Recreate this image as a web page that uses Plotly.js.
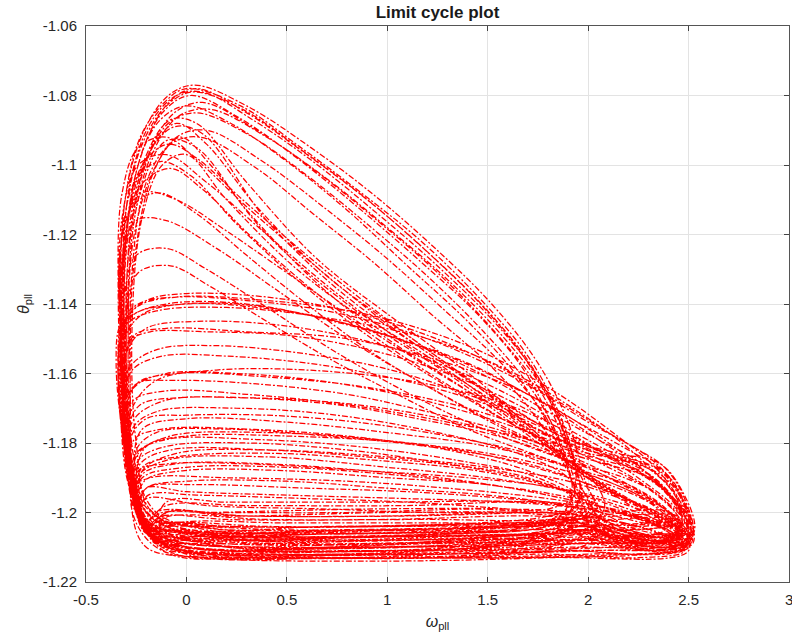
<!DOCTYPE html>
<html>
<head>
<meta charset="utf-8">
<script src="https://cdn.plot.ly/plotly-3.0.1.min.js"></script>
<style>html,body{margin:0;padding:0;background:#fff;}#chart{width:792px;height:640px;}</style>
</head>
<body>
<div id="chart"></div>
<script>
// Loops of the (omega_pll, theta_pll) trajectory as [omega, theta] pairs.
// U: big loops along the upper diagonal band that fall steeply into the crossing near (1.95, -1.19)
const loopU1 = [[-0.2,-1.206],[-0.29,-1.185],[-0.31,-1.15],[-0.29,-1.115],[-0.2,-1.093],[-0.07,-1.081],[0.05,-1.078],[0.3,-1.085],[0.6,-1.097],[0.9,-1.11],[1.2,-1.125],[1.5,-1.142],[1.72,-1.158],[1.86,-1.174],[1.94,-1.19],[1.88,-1.2],[1.7,-1.203],[1.2,-1.205],[0.5,-1.205],[-0.1,-1.204]];
const loopU2 = [[-0.15,-1.209],[-0.27,-1.195],[-0.32,-1.16],[-0.31,-1.125],[-0.24,-1.1],[-0.12,-1.085],[0.02,-1.08],[0.25,-1.086],[0.55,-1.098],[0.85,-1.112],[1.15,-1.127],[1.45,-1.143],[1.68,-1.159],[1.83,-1.176],[1.93,-1.193],[2.0,-1.204],[1.85,-1.21],[1.3,-1.212],[0.6,-1.213],[-0.05,-1.211]];
const loopU3 = [[-0.18,-1.207],[-0.28,-1.188],[-0.3,-1.155],[-0.28,-1.12],[-0.19,-1.097],[-0.06,-1.085],[0.08,-1.082],[0.35,-1.09],[0.65,-1.102],[0.95,-1.116],[1.25,-1.131],[1.52,-1.147],[1.74,-1.163],[1.88,-1.179],[1.96,-1.195],[1.9,-1.2],[1.6,-1.2],[1.0,-1.201],[0.3,-1.201],[-0.12,-1.2]];
const loopU4 = [[-0.22,-1.203],[-0.31,-1.175],[-0.33,-1.14],[-0.3,-1.108],[-0.21,-1.09],[-0.09,-1.08],[0.04,-1.077],[0.3,-1.083],[0.62,-1.095],[0.92,-1.108],[1.22,-1.123],[1.52,-1.14],[1.75,-1.157],[1.9,-1.174],[1.98,-1.19],[2.05,-1.202],[1.9,-1.206],[1.4,-1.208],[0.7,-1.209],[0.0,-1.208]];
const loopU5 = [[-0.16,-1.208],[-0.26,-1.192],[-0.28,-1.16],[-0.26,-1.128],[-0.17,-1.103],[-0.05,-1.092],[0.1,-1.09],[0.38,-1.099],[0.68,-1.112],[0.98,-1.126],[1.27,-1.141],[1.55,-1.156],[1.76,-1.17],[1.89,-1.184],[1.95,-1.197],[1.88,-1.206],[1.5,-1.21],[0.9,-1.211],[0.2,-1.211],[-0.1,-1.209]];
const loopU6 = [[-0.21,-1.205],[-0.3,-1.18],[-0.32,-1.145],[-0.3,-1.113],[-0.22,-1.094],[-0.1,-1.083],[0.03,-1.079],[0.28,-1.084],[0.58,-1.096],[0.88,-1.109],[1.18,-1.124],[1.48,-1.141],[1.7,-1.157],[1.85,-1.173],[1.95,-1.191],[2.02,-1.2],[1.8,-1.203],[1.1,-1.204],[0.4,-1.204],[-0.08,-1.203]];
const loopU7 = [[-0.17,-1.207],[-0.27,-1.19],[-0.29,-1.152],[-0.27,-1.12],[-0.18,-1.098],[-0.04,-1.086],[0.12,-1.084],[0.4,-1.092],[0.7,-1.104],[1.0,-1.118],[1.3,-1.133],[1.57,-1.149],[1.77,-1.164],[1.9,-1.18],[1.97,-1.197],[1.92,-1.204],[1.55,-1.207],[0.95,-1.208],[0.25,-1.207],[-0.12,-1.206]];
const loopU8 = [[-0.2,-1.206],[-0.3,-1.183],[-0.33,-1.148],[-0.31,-1.112],[-0.23,-1.092],[-0.11,-1.082],[0.0,-1.078],[0.27,-1.083],[0.57,-1.095],[0.87,-1.108],[1.17,-1.122],[1.47,-1.139],[1.7,-1.155],[1.86,-1.172],[1.96,-1.189],[2.08,-1.203],[2.0,-1.209],[1.5,-1.212],[0.8,-1.213],[0.05,-1.212]];
const loopU9 = [[-0.14,-1.209],[-0.25,-1.195],[-0.28,-1.165],[-0.27,-1.13],[-0.2,-1.105],[-0.08,-1.094],[0.07,-1.092],[0.35,-1.101],[0.63,-1.114],[0.93,-1.128],[1.22,-1.143],[1.5,-1.157],[1.72,-1.171],[1.87,-1.185],[1.93,-1.195],[1.8,-1.199],[1.4,-1.199],[0.8,-1.2],[0.15,-1.2],[-0.15,-1.2]];
const loopU10 = [[-0.23,-1.202],[-0.31,-1.172],[-0.32,-1.135],[-0.28,-1.105],[-0.18,-1.088],[-0.05,-1.08],[0.08,-1.079],[0.33,-1.087],[0.63,-1.099],[0.93,-1.113],[1.23,-1.128],[1.53,-1.145],[1.75,-1.161],[1.89,-1.177],[1.97,-1.193],[2.1,-1.205],[2.3,-1.209],[2.45,-1.211],[2.2,-1.212],[1.6,-1.213],[0.8,-1.213],[0.0,-1.212]];
const loopU11 = [[-0.19,-1.206],[-0.29,-1.186],[-0.31,-1.158],[-0.3,-1.122],[-0.23,-1.098],[-0.13,-1.087],[0.0,-1.083],[0.22,-1.088],[0.5,-1.099],[0.8,-1.113],[1.1,-1.129],[1.4,-1.145],[1.65,-1.161],[1.82,-1.177],[1.92,-1.194],[1.82,-1.203],[1.3,-1.206],[0.6,-1.207],[0.0,-1.206]];
const loopU12 = [[-0.18,-1.207],[-0.28,-1.19],[-0.3,-1.16],[-0.29,-1.127],[-0.21,-1.101],[-0.09,-1.088],[0.05,-1.085],[0.3,-1.091],[0.6,-1.103],[0.9,-1.117],[1.2,-1.132],[1.48,-1.148],[1.7,-1.163],[1.85,-1.178],[1.95,-1.194],[2.12,-1.204],[2.35,-1.208],[2.5,-1.21],[2.3,-1.212],[1.7,-1.213],[0.9,-1.213],[0.1,-1.212]];

// W: loops that turn high on the left side and run down the lower diagonal band into the right lobe
const loopW1 = [[-0.18,-1.207],[-0.28,-1.185],[-0.33,-1.145],[-0.32,-1.115],[-0.24,-1.1],[-0.1,-1.097],[0.1,-1.105],[0.4,-1.12],[0.75,-1.137],[1.1,-1.152],[1.45,-1.165],[1.75,-1.176],[2.0,-1.182],[2.25,-1.186],[2.4,-1.191],[2.5,-1.201],[2.5,-1.209],[2.3,-1.208],[2.05,-1.205],[1.8,-1.206],[1.1,-1.207],[0.3,-1.207],[-0.1,-1.205]];
const loopW2 = [[-0.2,-1.205],[-0.3,-1.178],[-0.33,-1.14],[-0.31,-1.118],[-0.22,-1.108],[-0.05,-1.11],[0.2,-1.119],[0.5,-1.131],[0.85,-1.145],[1.2,-1.158],[1.55,-1.17],[1.85,-1.179],[2.1,-1.184],[2.32,-1.188],[2.46,-1.197],[2.52,-1.207],[2.4,-1.21],[2.15,-1.208],[1.97,-1.204],[1.7,-1.206],[1.0,-1.209],[0.2,-1.209],[-0.1,-1.207]];
const loopW3 = [[-0.15,-1.208],[-0.27,-1.19],[-0.32,-1.155],[-0.32,-1.128],[-0.25,-1.116],[-0.1,-1.116],[0.15,-1.124],[0.45,-1.136],[0.8,-1.15],[1.15,-1.162],[1.5,-1.173],[1.8,-1.181],[2.08,-1.186],[2.3,-1.19],[2.44,-1.198],[2.49,-1.206],[2.35,-1.207],[2.1,-1.204],[1.95,-1.2],[1.7,-1.202],[1.0,-1.204],[0.2,-1.204],[-0.08,-1.203]];
const loopW4 = [[-0.22,-1.203],[-0.31,-1.172],[-0.34,-1.135],[-0.32,-1.108],[-0.24,-1.095],[-0.1,-1.092],[0.06,-1.099],[0.3,-1.112],[0.62,-1.128],[0.96,-1.144],[1.3,-1.158],[1.62,-1.17],[1.9,-1.179],[2.15,-1.183],[2.36,-1.186],[2.47,-1.194],[2.53,-1.205],[2.45,-1.211],[2.2,-1.21],[2.0,-1.207],[1.8,-1.21],[1.2,-1.212],[0.4,-1.212],[-0.1,-1.21]];
const loopW5 = [[-0.17,-1.207],[-0.27,-1.188],[-0.31,-1.16],[-0.31,-1.138],[-0.25,-1.126],[-0.1,-1.124],[0.1,-1.13],[0.4,-1.141],[0.72,-1.153],[1.05,-1.164],[1.4,-1.174],[1.7,-1.181],[1.95,-1.186],[2.18,-1.19],[2.35,-1.195],[2.46,-1.203],[2.42,-1.207],[2.2,-1.205],[2.0,-1.201],[1.75,-1.203],[1.1,-1.205],[0.3,-1.206],[-0.1,-1.205]];
const loopW6 = [[-0.21,-1.204],[-0.3,-1.178],[-0.33,-1.145],[-0.32,-1.12],[-0.25,-1.104],[-0.13,-1.099],[0.02,-1.103],[0.25,-1.117],[0.55,-1.133],[0.9,-1.149],[1.25,-1.162],[1.57,-1.173],[1.85,-1.181],[2.08,-1.185],[2.3,-1.189],[2.44,-1.197],[2.51,-1.207],[2.38,-1.209],[2.12,-1.207],[1.96,-1.203],[1.72,-1.206],[0.9,-1.208],[0.1,-1.208],[-0.12,-1.207]];
const loopW7 = [[-0.16,-1.208],[-0.26,-1.19],[-0.3,-1.163],[-0.3,-1.143],[-0.24,-1.131],[-0.08,-1.129],[0.12,-1.135],[0.4,-1.145],[0.72,-1.156],[1.05,-1.166],[1.4,-1.176],[1.72,-1.183],[1.97,-1.188],[2.2,-1.192],[2.37,-1.198],[2.47,-1.205],[2.4,-1.208],[2.15,-1.206],[1.98,-1.202],[1.7,-1.204],[1.0,-1.206],[0.2,-1.206],[-0.1,-1.205]];
const loopW8 = [[-0.19,-1.206],[-0.28,-1.185],[-0.32,-1.15],[-0.31,-1.122],[-0.23,-1.106],[-0.08,-1.101],[0.08,-1.107],[0.33,-1.121],[0.65,-1.137],[1.0,-1.152],[1.35,-1.165],[1.67,-1.176],[1.93,-1.182],[2.18,-1.185],[2.37,-1.188],[2.48,-1.197],[2.52,-1.209],[2.35,-1.21],[2.1,-1.208],[1.92,-1.205],[1.65,-1.209],[1.0,-1.211],[0.3,-1.211],[-0.08,-1.209]];
const loopW9 = [[-0.2,-1.205],[-0.29,-1.182],[-0.33,-1.148],[-0.33,-1.125],[-0.27,-1.112],[-0.14,-1.108],[0.05,-1.114],[0.3,-1.126],[0.62,-1.141],[0.95,-1.155],[1.3,-1.167],[1.62,-1.177],[1.9,-1.183],[2.15,-1.187],[2.34,-1.191],[2.46,-1.2],[2.5,-1.208],[2.32,-1.209],[2.08,-1.206],[1.9,-1.202],[1.6,-1.205],[0.9,-1.207],[0.1,-1.207],[-0.12,-1.206]];
const loopW10 = [[-0.17,-1.207],[-0.27,-1.187],[-0.31,-1.152],[-0.3,-1.12],[-0.22,-1.1],[-0.09,-1.094],[0.05,-1.098],[0.28,-1.11],[0.58,-1.125],[0.9,-1.14],[1.22,-1.154],[1.55,-1.167],[1.83,-1.177],[2.1,-1.183],[2.33,-1.187],[2.46,-1.195],[2.52,-1.206],[2.42,-1.21],[2.18,-1.208],[1.98,-1.204],[1.75,-1.207],[1.1,-1.21],[0.3,-1.21],[-0.1,-1.208]];
const loopL1 = [[2.46,-1.206],[1.8,-1.208],[0.9,-1.21],[0.1,-1.209],[-0.2,-1.203],[-0.28,-1.18],[-0.3,-1.145],[-0.27,-1.115],[-0.17,-1.095],[-0.05,-1.088],[0.1,-1.094],[0.35,-1.112],[0.7,-1.132],[1.1,-1.149],[1.5,-1.166],[1.85,-1.183],[2.15,-1.195],[2.4,-1.203]];
const loopL2 = [[2.42,-1.204],[1.9,-1.206],[1.1,-1.208],[0.3,-1.208],[-0.15,-1.204],[-0.26,-1.185],[-0.29,-1.15],[-0.26,-1.12],[-0.15,-1.1],[-0.03,-1.092],[0.12,-1.1],[0.4,-1.12],[0.8,-1.14],[1.25,-1.157],[1.65,-1.174],[1.95,-1.188],[2.25,-1.198],[2.45,-1.205]];
const loopL3 = [[2.5,-1.209],[2.0,-1.211],[1.2,-1.212],[0.4,-1.212],[-0.1,-1.209],[-0.26,-1.195],[-0.32,-1.16],[-0.31,-1.125],[-0.22,-1.1],[-0.08,-1.087],[0.05,-1.088],[0.3,-1.105],[0.65,-1.127],[1.05,-1.145],[1.45,-1.162],[1.8,-1.18],[2.1,-1.193],[2.38,-1.202]];
const loopL4 = [[2.44,-1.202],[1.7,-1.204],[0.8,-1.206],[0.0,-1.205],[-0.22,-1.197],[-0.29,-1.17],[-0.29,-1.135],[-0.23,-1.108],[-0.1,-1.093],[0.05,-1.095],[0.3,-1.113],[0.65,-1.134],[1.0,-1.15],[1.4,-1.165],[1.8,-1.182],[2.1,-1.194],[2.4,-1.203]];
const loopL5 = [[2.47,-1.207],[1.9,-1.209],[1.0,-1.21],[0.2,-1.21],[-0.18,-1.205],[-0.28,-1.188],[-0.31,-1.155],[-0.29,-1.12],[-0.19,-1.097],[-0.06,-1.089],[0.08,-1.091],[0.4,-1.116],[0.8,-1.138],[1.2,-1.154],[1.6,-1.17],[1.92,-1.186],[2.2,-1.196],[2.44,-1.204]];
const loopL6 = [[2.41,-1.2],[1.8,-1.203],[1.0,-1.205],[0.2,-1.205],[-0.17,-1.2],[-0.25,-1.18],[-0.27,-1.145],[-0.22,-1.115],[-0.12,-1.1],[0.0,-1.097],[0.2,-1.11],[0.55,-1.13],[0.95,-1.147],[1.35,-1.162],[1.75,-1.179],[2.05,-1.192],[2.35,-1.2]];

// B: loops of the flat band near theta = -1.14
const loopB1 = [[-0.2,-1.205],[-0.3,-1.185],[-0.34,-1.16],[-0.31,-1.145],[-0.2,-1.139],[0.0,-1.137],[0.4,-1.138],[0.8,-1.142],[1.2,-1.149],[1.55,-1.158],[1.85,-1.168],[2.1,-1.177],[2.3,-1.184],[2.43,-1.192],[2.5,-1.203],[2.42,-1.207],[2.2,-1.205],[1.98,-1.2],[1.75,-1.2],[1.1,-1.201],[0.3,-1.201],[-0.1,-1.2]];
const loopB2 = [[-0.18,-1.206],[-0.29,-1.188],[-0.33,-1.165],[-0.31,-1.15],[-0.22,-1.143],[-0.02,-1.14],[0.35,-1.141],[0.75,-1.145],[1.15,-1.152],[1.5,-1.161],[1.8,-1.171],[2.05,-1.179],[2.27,-1.186],[2.42,-1.194],[2.49,-1.205],[2.38,-1.208],[2.15,-1.206],[1.96,-1.202],[1.7,-1.203],[1.0,-1.204],[0.2,-1.204],[-0.1,-1.203]];
const loopB3 = [[-0.21,-1.204],[-0.31,-1.18],[-0.35,-1.157],[-0.33,-1.146],[-0.24,-1.14],[-0.05,-1.138],[0.3,-1.139],[0.7,-1.142],[1.1,-1.148],[1.45,-1.156],[1.75,-1.165],[2.0,-1.174],[2.22,-1.181],[2.38,-1.187],[2.48,-1.196],[2.52,-1.207],[2.4,-1.211],[2.18,-1.209],[2.0,-1.205],[1.8,-1.208],[1.2,-1.211],[0.4,-1.212],[-0.08,-1.21]];
const loopB4 = [[-0.17,-1.207],[-0.28,-1.19],[-0.32,-1.168],[-0.3,-1.154],[-0.2,-1.147],[0.05,-1.145],[0.45,-1.146],[0.85,-1.15],[1.25,-1.157],[1.6,-1.166],[1.9,-1.176],[2.15,-1.184],[2.35,-1.191],[2.46,-1.2],[2.45,-1.206],[2.25,-1.205],[2.02,-1.199],[1.78,-1.197],[1.1,-1.198],[0.3,-1.198],[-0.1,-1.198]];
const loopB5 = [[-0.2,-1.205],[-0.3,-1.183],[-0.34,-1.158],[-0.32,-1.146],[-0.23,-1.142],[0.0,-1.14],[0.25,-1.14],[0.6,-1.143],[1.0,-1.149],[1.4,-1.157],[1.7,-1.166],[1.98,-1.175],[2.2,-1.182],[2.37,-1.188],[2.47,-1.197],[2.51,-1.206],[2.42,-1.21],[2.2,-1.208],[1.99,-1.204],[1.75,-1.206],[1.0,-1.207],[0.2,-1.208],[-0.1,-1.207]];
const loopB6 = [[-0.19,-1.206],[-0.29,-1.186],[-0.32,-1.163],[-0.29,-1.151],[-0.18,-1.148],[0.1,-1.148],[0.5,-1.149],[0.9,-1.153],[1.3,-1.16],[1.65,-1.169],[1.95,-1.179],[2.2,-1.187],[2.38,-1.194],[2.47,-1.203],[2.4,-1.208],[2.2,-1.206],[1.98,-1.202],[1.72,-1.201],[1.0,-1.202],[0.2,-1.202],[-0.12,-1.201]];
const loopB7 = [[2.5,-1.207],[2.0,-1.208],[1.2,-1.209],[0.4,-1.21],[-0.1,-1.207],[-0.27,-1.195],[-0.33,-1.17],[-0.33,-1.15],[-0.25,-1.141],[-0.05,-1.138],[0.4,-1.139],[0.9,-1.143],[1.4,-1.152],[1.8,-1.164],[2.1,-1.176],[2.35,-1.188],[2.48,-1.2]];
const loopB8 = [[2.46,-1.204],[1.8,-1.206],[0.9,-1.207],[0.1,-1.207],[-0.2,-1.2],[-0.3,-1.18],[-0.34,-1.158],[-0.3,-1.146],[-0.15,-1.142],[0.2,-1.141],[0.7,-1.144],[1.2,-1.15],[1.6,-1.159],[1.95,-1.171],[2.25,-1.184],[2.45,-1.197]];
const loopB9 = [[2.52,-1.208],[2.1,-1.21],[1.3,-1.211],[0.5,-1.211],[-0.05,-1.209],[-0.25,-1.198],[-0.32,-1.175],[-0.33,-1.155],[-0.28,-1.144],[-0.1,-1.14],[0.3,-1.14],[0.8,-1.146],[1.3,-1.155],[1.7,-1.166],[2.05,-1.179],[2.32,-1.19],[2.5,-1.202]];
const loopB10 = [[2.44,-1.201],[1.6,-1.203],[0.7,-1.204],[-0.05,-1.204],[-0.22,-1.196],[-0.29,-1.175],[-0.31,-1.158],[-0.26,-1.149],[-0.1,-1.147],[0.3,-1.148],[0.8,-1.15],[1.3,-1.157],[1.7,-1.166],[2.0,-1.176],[2.3,-1.189],[2.46,-1.2]];

// C: loops of the band between theta = -1.15 and -1.18
const loopC1 = [[-0.2,-1.205],[-0.29,-1.185],[-0.31,-1.168],[-0.27,-1.159],[-0.12,-1.155],[0.2,-1.155],[0.6,-1.157],[1.0,-1.161],[1.4,-1.167],[1.75,-1.175],[2.05,-1.183],[2.3,-1.19],[2.45,-1.198],[2.5,-1.207],[2.38,-1.209],[2.15,-1.206],[1.97,-1.201],[1.7,-1.2],[1.0,-1.2],[0.2,-1.201],[-0.1,-1.2]];
const loopC2 = [[-0.17,-1.207],[-0.27,-1.19],[-0.3,-1.173],[-0.26,-1.164],[-0.1,-1.16],[0.25,-1.16],[0.65,-1.162],[1.05,-1.166],[1.45,-1.172],[1.8,-1.179],[2.1,-1.187],[2.32,-1.194],[2.46,-1.203],[2.38,-1.207],[2.15,-1.204],[1.96,-1.199],[1.7,-1.197],[1.0,-1.197],[0.2,-1.197],[-0.1,-1.197]];
const loopC3 = [[-0.21,-1.204],[-0.3,-1.182],[-0.31,-1.17],[-0.25,-1.163],[-0.05,-1.162],[0.35,-1.163],[0.8,-1.166],[1.2,-1.171],[1.6,-1.177],[1.92,-1.184],[2.2,-1.192],[2.4,-1.2],[2.5,-1.209],[2.35,-1.211],[2.1,-1.209],[1.9,-1.206],[1.6,-1.209],[0.9,-1.212],[0.1,-1.212],[-0.12,-1.21]];
const loopC4 = [[-0.18,-1.206],[-0.28,-1.188],[-0.29,-1.176],[-0.23,-1.169],[-0.05,-1.167],[0.3,-1.167],[0.75,-1.169],[1.15,-1.173],[1.55,-1.178],[1.9,-1.185],[2.18,-1.192],[2.38,-1.199],[2.47,-1.206],[2.33,-1.208],[2.1,-1.206],[1.95,-1.203],[1.7,-1.204],[1.0,-1.205],[0.2,-1.205],[-0.1,-1.204]];
const loopC5 = [[-0.19,-1.205],[-0.29,-1.186],[-0.32,-1.168],[-0.28,-1.158],[-0.14,-1.153],[0.15,-1.152],[0.55,-1.154],[0.95,-1.158],[1.35,-1.165],[1.7,-1.173],[2.0,-1.181],[2.25,-1.188],[2.42,-1.196],[2.51,-1.206],[2.4,-1.21],[2.15,-1.208],[1.98,-1.205],[1.72,-1.207],[1.0,-1.208],[0.2,-1.209],[-0.12,-1.208]];
const loopC6 = [[-0.16,-1.207],[-0.26,-1.191],[-0.28,-1.179],[-0.2,-1.173],[0.0,-1.172],[0.4,-1.172],[0.85,-1.174],[1.3,-1.178],[1.7,-1.183],[2.0,-1.189],[2.25,-1.195],[2.42,-1.202],[2.46,-1.207],[2.3,-1.207],[2.05,-1.203],[1.9,-1.2],[1.6,-1.199],[0.9,-1.199],[0.1,-1.2],[-0.1,-1.2]];
const loopC7 = [[2.46,-1.206],[1.8,-1.208],[0.9,-1.209],[0.1,-1.209],[-0.18,-1.203],[-0.27,-1.188],[-0.3,-1.172],[-0.25,-1.163],[-0.05,-1.16],[0.4,-1.161],[0.9,-1.164],[1.4,-1.17],[1.8,-1.178],[2.1,-1.186],[2.35,-1.195],[2.48,-1.203]];
const loopC8 = [[2.5,-1.209],[1.9,-1.211],[1.0,-1.212],[0.2,-1.212],[-0.15,-1.208],[-0.27,-1.195],[-0.31,-1.178],[-0.27,-1.168],[-0.1,-1.165],[0.3,-1.166],[0.8,-1.169],[1.3,-1.174],[1.75,-1.18],[2.1,-1.19],[2.38,-1.199],[2.5,-1.206]];
const loopC9 = [[2.47,-1.207],[1.6,-1.209],[0.7,-1.21],[-0.05,-1.209],[-0.22,-1.2],[-0.29,-1.182],[-0.27,-1.17],[-0.15,-1.162],[0.15,-1.159],[0.6,-1.159],[1.1,-1.162],[1.55,-1.168],[1.9,-1.177],[2.2,-1.188],[2.45,-1.2]];
const loopC10 = [[2.42,-1.202],[1.7,-1.204],[0.9,-1.205],[0.1,-1.205],[-0.15,-1.2],[-0.24,-1.19],[-0.25,-1.182],[-0.15,-1.177],[0.2,-1.176],[0.7,-1.178],[1.2,-1.181],[1.7,-1.186],[2.05,-1.193],[2.3,-1.199],[2.43,-1.203]];

// D: low loops between theta = -1.17 and the bottom edge
const loopD1 = [[-0.2,-1.205],[-0.26,-1.195],[-0.24,-1.185],[-0.1,-1.181],[0.3,-1.18],[0.8,-1.182],[1.3,-1.186],[1.7,-1.19],[1.92,-1.196],[1.88,-1.202],[1.7,-1.205],[1.0,-1.206],[0.2,-1.206],[-0.12,-1.205]];
const loopD2 = [[-0.18,-1.206],[-0.25,-1.197],[-0.22,-1.189],[-0.05,-1.186],[0.4,-1.186],[0.9,-1.188],[1.4,-1.191],[1.8,-1.195],[2.1,-1.199],[2.35,-1.204],[2.46,-1.209],[2.3,-1.211],[2.0,-1.209],[1.5,-1.211],[0.7,-1.212],[0.0,-1.211]];
const loopD3 = [[-0.22,-1.203],[-0.28,-1.19],[-0.26,-1.179],[-0.12,-1.176],[0.3,-1.176],[0.8,-1.178],[1.3,-1.182],[1.7,-1.188],[1.95,-1.195],[1.98,-1.2],[1.8,-1.202],[1.2,-1.202],[0.4,-1.202],[-0.08,-1.201]];
const loopD4 = [[-0.17,-1.207],[-0.24,-1.199],[-0.2,-1.193],[0.0,-1.191],[0.5,-1.191],[1.0,-1.193],[1.5,-1.195],[1.9,-1.198],[2.2,-1.202],[2.42,-1.206],[2.35,-1.21],[2.0,-1.208],[1.6,-1.21],[0.8,-1.211],[0.0,-1.21]];
const loopD5 = [[-0.21,-1.204],[-0.27,-1.193],[-0.25,-1.183],[-0.1,-1.179],[0.35,-1.179],[0.85,-1.181],[1.35,-1.185],[1.75,-1.19],[1.95,-1.197],[1.85,-1.202],[1.5,-1.203],[0.8,-1.204],[0.1,-1.204],[-0.12,-1.203]];
const loopD6 = [[-0.19,-1.205],[-0.25,-1.196],[-0.22,-1.187],[-0.05,-1.184],[0.45,-1.183],[0.95,-1.185],[1.45,-1.188],[1.85,-1.193],[2.15,-1.198],[2.4,-1.204],[2.5,-1.21],[2.3,-1.212],[1.9,-1.211],[1.3,-1.213],[0.5,-1.213],[-0.05,-1.212]];
const loopD7 = [[-0.16,-1.208],[-0.23,-1.2],[-0.19,-1.195],[0.05,-1.195],[0.6,-1.196],[1.1,-1.197],[1.6,-1.199],[1.95,-1.201],[2.25,-1.204],[2.44,-1.208],[2.25,-1.209],[1.9,-1.205],[1.4,-1.206],[0.6,-1.207],[0.0,-1.207]];
const loopD8 = [[-0.2,-1.205],[-0.27,-1.19],[-0.27,-1.176],[-0.15,-1.171],[0.25,-1.17],[0.75,-1.172],[1.25,-1.177],[1.65,-1.183],[1.9,-1.19],[2.0,-1.2],[1.85,-1.203],[1.3,-1.203],[0.5,-1.203],[-0.05,-1.203]];
const loopD9 = [[-0.18,-1.206],[-0.24,-1.199],[-0.21,-1.191],[-0.02,-1.188],[0.5,-1.188],[1.0,-1.19],[1.5,-1.192],[1.88,-1.196],[2.18,-1.2],[2.4,-1.205],[2.48,-1.211],[2.25,-1.213],[1.8,-1.212],[1.2,-1.213],[0.4,-1.213],[-0.08,-1.212]];
const loopD10 = [[-0.21,-1.204],[-0.26,-1.195],[-0.23,-1.186],[-0.08,-1.182],[0.4,-1.182],[0.9,-1.184],[1.4,-1.187],[1.8,-1.192],[2.05,-1.198],[2.3,-1.203],[2.45,-1.207],[2.3,-1.209],[2.02,-1.206],[1.75,-1.208],[1.0,-1.211],[0.2,-1.211],[-0.1,-1.209]];
const loopD11 = [[2.48,-1.208],[1.9,-1.21],[1.0,-1.211],[0.2,-1.211],[-0.15,-1.207],[-0.24,-1.198],[-0.22,-1.188],[-0.05,-1.183],[0.4,-1.182],[1.0,-1.184],[1.5,-1.187],[1.9,-1.191],[2.2,-1.197],[2.42,-1.204]];
const loopD12 = [[2.45,-1.205],[1.8,-1.206],[0.9,-1.207],[0.1,-1.207],[-0.18,-1.203],[-0.26,-1.195],[-0.24,-1.188],[-0.1,-1.186],[0.3,-1.186],[0.9,-1.188],[1.4,-1.19],[1.85,-1.193],[2.2,-1.198],[2.44,-1.204]];
const loopD13 = [[2.5,-1.21],[2.0,-1.212],[1.2,-1.213],[0.3,-1.213],[-0.12,-1.211],[-0.25,-1.203],[-0.27,-1.193],[-0.18,-1.19],[0.2,-1.19],[0.8,-1.191],[1.3,-1.193],[1.8,-1.196],[2.2,-1.2],[2.47,-1.206]];
const loopD14 = [[2.44,-1.203],[1.7,-1.205],[0.8,-1.206],[0.0,-1.206],[-0.2,-1.2],[-0.25,-1.19],[-0.2,-1.181],[0.0,-1.178],[0.5,-1.178],[1.1,-1.18],[1.6,-1.184],[2.0,-1.19],[2.3,-1.197],[2.45,-1.204]];
const loopD15 = [[2.47,-1.207],[1.9,-1.209],[1.1,-1.21],[0.2,-1.21],[-0.15,-1.206],[-0.23,-1.198],[-0.2,-1.193],[0.0,-1.194],[0.5,-1.195],[1.1,-1.196],[1.6,-1.197],[2.0,-1.199],[2.3,-1.202],[2.48,-1.206]];
const loopD16 = [[2.43,-1.202],[1.6,-1.204],[0.7,-1.205],[-0.05,-1.205],[-0.22,-1.198],[-0.26,-1.186],[-0.22,-1.176],[0.0,-1.173],[0.5,-1.174],[1.0,-1.177],[1.5,-1.181],[1.9,-1.187],[2.25,-1.195],[2.44,-1.202]];
const loopD17 = [[2.5,-1.211],[1.8,-1.213],[0.9,-1.214],[0.1,-1.213],[-0.2,-1.21],[-0.27,-1.2],[-0.25,-1.19],[-0.1,-1.185],[0.4,-1.184],[1.0,-1.187],[1.5,-1.19],[1.9,-1.194],[2.25,-1.201],[2.49,-1.208]];
const loopD18 = [[-0.19,-1.203],[-0.25,-1.196],[-0.22,-1.19],[0.0,-1.187],[0.5,-1.187],[1.0,-1.189],[1.5,-1.192],[1.85,-1.195],[2.05,-1.198],[1.95,-1.202],[1.6,-1.203],[0.9,-1.204],[0.2,-1.204],[-0.1,-1.203]];
const loopD19 = [[-0.2,-1.206],[-0.27,-1.194],[-0.24,-1.183],[-0.08,-1.178],[0.4,-1.177],[0.95,-1.179],[1.45,-1.183],[1.85,-1.189],[2.15,-1.195],[2.4,-1.202],[2.47,-1.208],[2.3,-1.208],[2.0,-1.204],[1.7,-1.207],[1.0,-1.209],[0.2,-1.209],[-0.1,-1.208]];
const loopD20 = [[-0.17,-1.205],[-0.23,-1.199],[-0.2,-1.193],[0.05,-1.192],[0.6,-1.193],[1.1,-1.194],[1.6,-1.196],[1.95,-1.198],[2.2,-1.201],[2.38,-1.205],[2.25,-1.207],[1.95,-1.203],[1.6,-1.205],[0.8,-1.206],[0.0,-1.206]];
const loopD21 = [[-0.21,-1.204],[-0.28,-1.188],[-0.27,-1.174],[-0.12,-1.168],[0.3,-1.167],[0.85,-1.169],[1.35,-1.174],[1.75,-1.181],[2.0,-1.189],[2.08,-1.199],[1.9,-1.205],[1.3,-1.207],[0.5,-1.208],[-0.05,-1.207]];
const loopD22 = [[-0.18,-1.207],[-0.24,-1.2],[-0.2,-1.196],[0.1,-1.198],[0.7,-1.199],[1.2,-1.2],[1.7,-1.2],[2.0,-1.201],[2.3,-1.205],[2.48,-1.21],[2.3,-1.212],[1.9,-1.211],[1.3,-1.212],[0.5,-1.212],[-0.05,-1.211]];

// Axis ticks and labels as MATLAB prints them
const xTickVals = [-0.5, 0, 0.5, 1, 1.5, 2, 2.5, 3];
const xTickText = ['-0.5', '0', '0.5', '1', '1.5', '2', '2.5', ''];
const xEdgeLabel = '3';
const yTickVals = [-1.22, -1.2, -1.18, -1.16, -1.14, -1.12, -1.1, -1.08, -1.06];
const yTickText = ['-1.22', '-1.2', '-1.18', '-1.16', '-1.14', '-1.12', '-1.1', '-1.08', '-1.06'];

// Order in which the trajectory runs through the loops
const trajectory = [
  loopU1, loopB1, loopD1, loopW1, loopC1, loopU2, loopD2, loopB2, loopW2, loopC2,
  loopU3, loopD3, loopB3, loopW3, loopC3, loopU4, loopD4, loopB4, loopW4, loopC4,
  loopU5, loopD5, loopB5, loopW5, loopC5, loopU6, loopD6, loopB6, loopW6, loopC6,
  loopU7, loopD7, loopW7, loopD18, loopU8, loopD8, loopW8, loopD19, loopU9, loopD9,
  loopW9, loopD20, loopU10, loopD10, loopW10, loopD21, loopU11, loopD22, loopU12,
  loopL1, loopB7, loopD11, loopC7, loopL2, loopB8, loopD12, loopC8, loopL3, loopB9,
  loopD13, loopC9, loopL4, loopB10, loopD14, loopC10, loopL5, loopD15, loopL6, loopD16, loopD17
];

const omega = [];
const theta = [];
trajectory.forEach(loop => loop.forEach(p => { omega.push(p[0]); theta.push(p[1]); }));

const font = 'Liberation Sans, Arial, Helvetica, sans-serif';

const trace = {
  x: omega,
  y: theta,
  type: 'scatter',
  mode: 'lines',
  line: { color: '#ff0000', width: 1.25, dash: '6px,2px,2px,2px', shape: 'spline', smoothing: 1 },
  hoverinfo: 'skip'
};

const axisCommon = {
  showgrid: true,
  gridcolor: '#e3e3e3',
  gridwidth: 1,
  zeroline: false,
  showline: true,
  linecolor: '#555555',
  linewidth: 1,
  mirror: 'ticks',
  ticks: 'inside',
  ticklen: 5,
  tickcolor: '#444444',
  tickfont: { family: font, size: 15, color: '#262626' },
  tickmode: 'array',
  automargin: false
};

const layout = {
  width: 792,
  height: 640,
  margin: { l: 86, r: 3, t: 26, b: 58 },
  paper_bgcolor: '#ffffff',
  plot_bgcolor: '#ffffff',
  showlegend: false,
  title: {
    text: '<b>Limit cycle plot</b>',
    font: { family: font, size: 17, color: '#1a1a1a' },
    x: 0.5, xref: 'paper', xanchor: 'center',
    y: 0.981, yref: 'container', yanchor: 'middle'
  },
  xaxis: Object.assign({}, axisCommon, {
    range: [-0.5, 3],
    tickvals: xTickVals,
    ticktext: xTickText,
    ticklabelstandoff: 4,
    title: { text: '<i>ω</i><sub>pll</sub>', font: { family: font, size: 16, color: '#262626' }, standoff: 8 }
  }),
  yaxis: Object.assign({}, axisCommon, {
    range: [-1.22, -1.06],
    tickvals: yTickVals,
    ticktext: yTickText,
    ticklabelstandoff: 5,
    title: { text: '<i>θ</i><sub>pll</sub>', font: { family: font, size: 16, color: '#262626' }, standoff: 9 }
  }),
  annotations: [{
    text: xEdgeLabel, xref: 'x', x: 3, yref: 'paper', y: 0,
    xanchor: 'center', yanchor: 'top', yshift: -7, showarrow: false,
    font: { family: font, size: 15, color: '#262626' }
  }]
};

Plotly.newPlot('chart', [trace], layout, { staticPlot: true, displayModeBar: false });
</script>
</body>
</html>
